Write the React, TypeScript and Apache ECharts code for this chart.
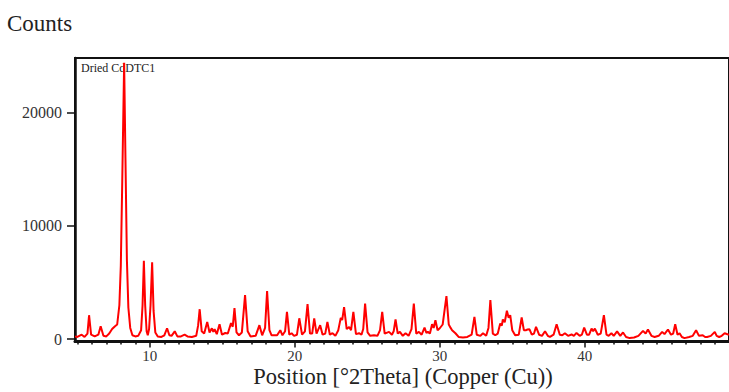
import React, { useEffect, useRef } from "react";
import * as echarts from "echarts";

const twoTheta = [
  4.84, 5.0, 5.3, 5.5, 5.7, 5.81, 5.95, 6.2, 6.45, 6.61, 6.8, 7.0, 7.2, 7.4, 7.6, 7.75, 7.9, 8.0, 8.1, 8.23,
  8.32, 8.42, 8.52, 8.65, 8.8, 9.0, 9.2, 9.4, 9.5, 9.59, 9.68, 9.78, 9.86, 9.95, 10.05, 10.16, 10.26, 10.38, 10.55, 10.8,
  11.0, 11.19, 11.35, 11.5, 11.72, 11.9, 12.15, 12.4, 12.6, 12.9, 13.2, 13.33, 13.44, 13.58, 13.75, 13.96, 14.12, 14.28, 14.38, 14.47,
  14.62, 14.81, 14.98, 15.2, 15.38, 15.6, 15.72, 15.84, 15.98, 16.15, 16.35, 16.57, 16.75, 16.95, 17.3, 17.56, 17.75, 17.95, 18.09, 18.25,
  18.4, 18.6, 18.78, 19.0, 19.15, 19.33, 19.46, 19.62, 19.78, 19.95, 20.15, 20.31, 20.5, 20.7, 20.88, 21.05, 21.2, 21.34, 21.5, 21.75,
  21.92, 22.1, 22.25, 22.42, 22.6, 22.8, 23.0, 23.17, 23.27, 23.4, 23.58, 23.75, 23.88, 24.04, 24.22, 24.43, 24.6, 24.72, 24.85, 25.02,
  25.2, 25.46, 25.7, 25.88, 26.03, 26.2, 26.5, 26.7, 26.82, 26.95, 27.1, 27.25, 27.45, 27.64, 27.85, 28.05, 28.21, 28.38, 28.56, 28.75,
  28.95, 29.08, 29.18, 29.32, 29.47, 29.58, 29.7, 29.85, 30.0, 30.2, 30.46, 30.62, 30.75, 30.85, 31.08, 31.3, 31.6, 31.9, 32.2, 32.39,
  32.55, 32.8, 32.98, 33.2, 33.36, 33.49, 33.66, 33.83, 34.0, 34.17, 34.28, 34.35, 34.48, 34.63, 34.75, 34.86, 35.0, 35.2, 35.45, 35.65,
  35.8, 35.96, 36.05, 36.19, 36.35, 36.5, 36.64, 36.85, 37.05, 37.26, 37.45, 37.6, 37.85, 38.06, 38.28, 38.45, 38.63, 38.85, 39.09, 39.25,
  39.43, 39.65, 39.8, 39.96, 40.15, 40.3, 40.47, 40.58, 40.7, 40.9, 41.1, 41.32, 41.5, 41.65, 41.84, 42.0, 42.23, 42.45, 42.64, 42.85,
  43.1, 43.4, 43.7, 44.02, 44.2, 44.36, 44.6, 44.82, 45.1, 45.34, 45.5, 45.74, 45.95, 46.1, 46.24, 46.4, 46.54, 46.7, 46.88, 47.2,
  47.45, 47.68, 47.88, 48.14, 48.3, 48.44, 48.7, 48.97, 49.1, 49.27, 49.45, 49.65, 49.95,
];

const counts = [
  250, 200, 400, 200, 500, 2120, 400, 250, 400, 1150, 300, 250, 500, 900, 1150, 1300, 3000, 6500, 14000, 24400,
  16000, 7000, 2800, 1000, 350, 250, 300, 800, 3000, 6930, 3000, 700, 350, 900, 3000, 6800, 2500, 600, 250, 200,
  350, 970, 350, 300, 700, 250, 250, 400, 250, 200, 300, 1200, 2650, 700, 500, 1530, 600, 970, 650, 880,
  450, 1330, 400, 550, 500, 1420, 1100, 2740, 600, 350, 600, 3900, 700, 250, 300, 1240, 350, 1000, 4250, 800,
  350, 350, 350, 800, 350, 700, 2420, 400, 530, 300, 400, 1850, 400, 700, 3100, 500, 500, 1850, 500, 1240,
  400, 500, 1530, 400, 530, 300, 800, 1890, 1700, 2830, 900, 1090, 800, 2420, 450, 530, 400, 900, 3150, 600,
  300, 350, 300, 800, 2420, 500, 650, 400, 700, 1740, 500, 650, 300, 530, 300, 900, 3150, 500, 650, 400,
  1030, 550, 650, 500, 1330, 1000, 1680, 800, 970, 1300, 3800, 1300, 1000, 800, 530, 200, 150, 200, 400, 1980,
  400, 300, 530, 300, 1000, 3450, 500, 350, 500, 1390, 1200, 1740, 1500, 2510, 1900, 2120, 800, 350, 400, 1920,
  800, 800, 860, 880, 400, 500, 1090, 400, 300, 700, 300, 200, 400, 1330, 400, 350, 530, 300, 420, 300,
  560, 300, 400, 1030, 400, 400, 940, 700, 940, 400, 500, 2120, 400, 300, 530, 300, 700, 300, 600, 200,
  100, 150, 300, 740, 500, 860, 300, 200, 300, 650, 450, 860, 400, 500, 1330, 400, 530, 200, 100, 200,
  300, 800, 300, 350, 200, 200, 300, 650, 300, 200, 300, 530, 400,
];

const xMajorTicks = [10, 20, 30, 40];
const xMinorTicks = [5, 6, 7, 8, 9, 11, 12, 13, 14, 15, 16, 17, 18, 19, 21, 22, 23, 24, 25, 26, 27, 28, 29, 31, 32, 33, 34, 35, 36, 37, 38, 39, 41, 42, 43, 44, 45, 46, 47, 48, 49];
const yTicks = [0, 10000, 20000];

const seriesName = "Dried CdDTC1";
const yTitle = "Counts";
const xTitle = "Position [°2Theta] (Copper (Cu))";

const SERIF = "serif";

export default function App() {
  const ref = useRef<HTMLDivElement>(null);

  useEffect(() => {
    if (!ref.current) return;
    const chart = echarts.init(ref.current, undefined, { renderer: "svg" });
    const data = twoTheta.map((x, i) => [x, counts[i]]);
    const xMin = 4.84;
    const xMax = 49.95;
    const plain = (v: number) => String(Math.round(v));
    chart.setOption({
      animation: false,
      backgroundColor: "#ffffff",
      grid: {
        left: 75,
        right: -1.5,
        top: 58,
        bottom: 50.5,
        show: true,
        borderColor: "#111",
        borderWidth: 2,
        backgroundColor: "transparent",
      },
      xAxis: [
        {
          type: "value",
          position: "bottom",
          min: xMin,
          max: xMax,
          axisLine: { show: true, onZero: false, lineStyle: { color: "#111", width: 3 } },
          axisTick: { show: true, length: 6, customValues: xMajorTicks, lineStyle: { color: "#111", width: 1.5 } },
          axisLabel: {
            customValues: xMajorTicks,
            formatter: plain,
            margin: 7,
            color: "#333",
            fontFamily: SERIF,
            fontSize: 15,
          },
          splitLine: { show: false },
        },
        {
          type: "value",
          position: "bottom",
          min: xMin,
          max: xMax,
          axisLine: { show: false, onZero: false },
          axisTick: { show: true, length: 3, customValues: xMinorTicks, lineStyle: { color: "#111", width: 1.5 } },
          axisLabel: { show: false },
          splitLine: { show: false },
        },
      ],
      yAxis: {
        type: "value",
        min: -200,
        max: 24830,
        axisLine: { show: true, onZero: false, lineStyle: { color: "#111", width: 2.5 } },
        axisTick: { show: true, length: 8, customValues: yTicks, lineStyle: { color: "#111", width: 1.5 } },
        axisLabel: {
          customValues: yTicks,
          formatter: plain,
          margin: 13,
          color: "#333",
          fontFamily: SERIF,
          fontSize: 16,
        },
        splitLine: { show: false },
      },
      graphic: [
        {
          type: "text",
          left: 7,
          top: 12,
          style: { text: yTitle, fontFamily: SERIF, fontSize: 23, fill: "#222" },
        },
        {
          type: "text",
          x: 403,
          y: 376,
          style: {
            text: xTitle,
            fontFamily: SERIF,
            fontSize: 22.5,
            fill: "#222",
            align: "center",
            verticalAlign: "middle",
          },
        },
        {
          type: "text",
          x: 81,
          y: 68,
          z: 1,
          style: {
            text: seriesName,
            fontFamily: SERIF,
            fontSize: 12,
            fill: "#222",
            align: "left",
            verticalAlign: "middle",
          },
        },
      ],
      series: [
        {
          name: seriesName,
          type: "line",
          xAxisIndex: 0,
          data,
          showSymbol: false,
          symbol: "none",
          smooth: false,
          clip: true,
          lineStyle: { color: "#ff0000", width: 2 },
          z: 3,
        },
      ],
    });
    return () => chart.dispose();
  }, []);

  return (
    <div
      ref={ref}
      style={{ position: "fixed", left: 0, top: 0, width: 729, height: 392, background: "#fff" }}
    />
  );
}
